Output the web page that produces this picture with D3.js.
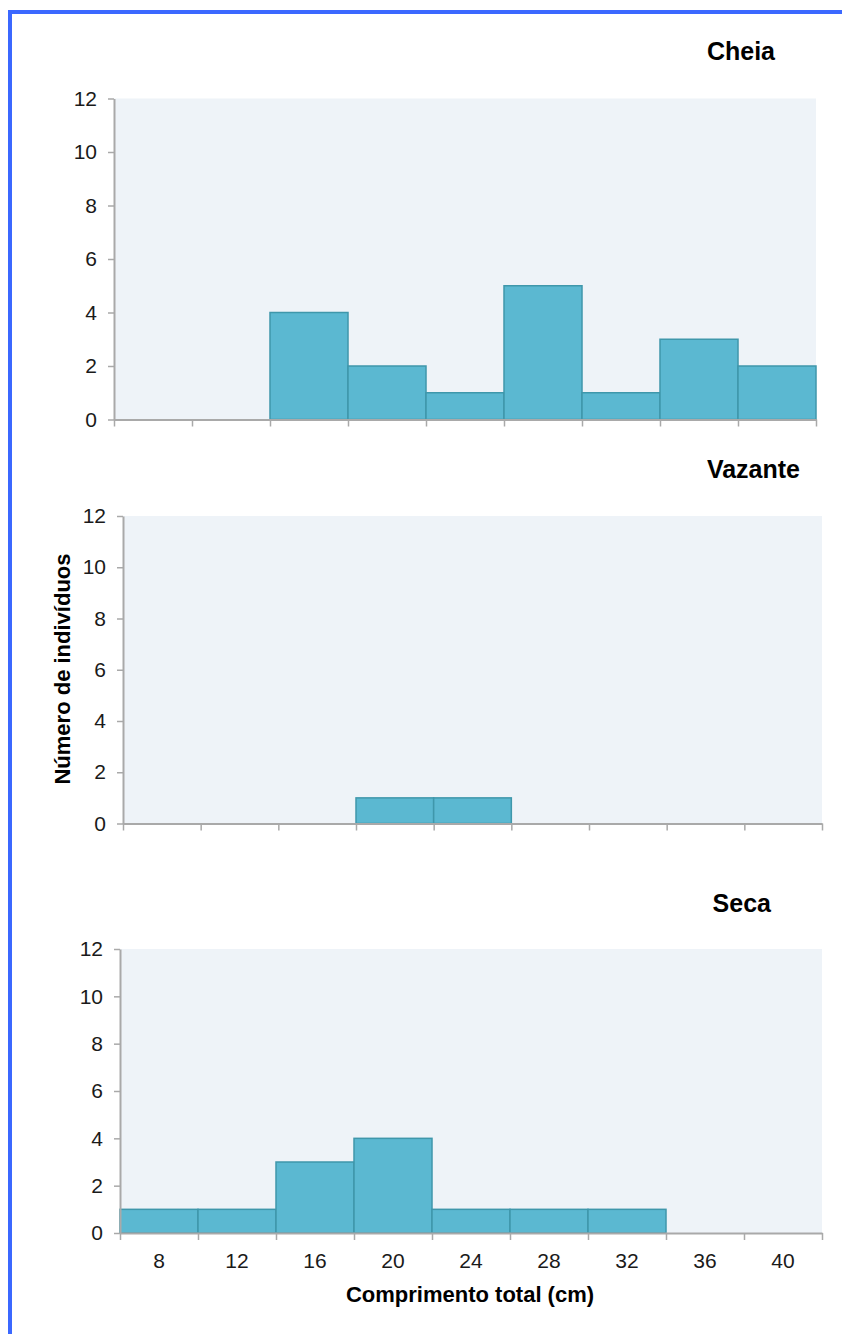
<!DOCTYPE html>
<html>
<head>
<meta charset="utf-8">
<script src="https://cdn.jsdelivr.net/npm/d3@7"></script>
<style>
  html, body { margin: 0; padding: 0; background: #fff; }
  svg { display: block; font-family: "Liberation Sans", Arial, Helvetica, sans-serif; }
</style>
</head>
<body>
<svg id="chart" width="842" height="1334"></svg>
<script>
// Length classes (bin centres, cm) and their bin edges
const binCenters = [8, 12, 16, 20, 24, 28, 32, 36, 40];
const binWidth = 4;

// Number of individuals per length class, by hydrological season
const cheia   = [0, 0, 4, 2, 1, 5, 1, 3, 2];
const vazante = [0, 0, 0, 1, 1, 0, 0, 0, 0];
const seca    = [1, 1, 3, 4, 1, 1, 1, 0, 0];

const seasonNames = ["Cheia", "Vazante", "Seca"];
const yTicks = [0, 2, 4, 6, 8, 10, 12];

const yLabel = "Número de indivíduos";
const xLabel = "Comprimento total (cm)";

// Panel layout
const panels = [
  { name: seasonNames[0], values: cheia,   x0: 114, x1: 816, yTop: 98.5, yBot: 419.5, titleX: 775, titleY: 60,  showX: false },
  { name: seasonNames[1], values: vazante, x0: 123, x1: 822, yTop: 516,  yBot: 823.5, titleX: 800, titleY: 478, showX: false },
  { name: seasonNames[2], values: seca,    x0: 120, x1: 822, yTop: 949,  yBot: 1233,  titleX: 771, titleY: 912, showX: true  }
];

const svg = d3.select("#chart");
const axisColor = "#a9a9a9";
const barFill = "#5bb8d1";
const barStroke = "#3f97ab";

// Frame lines along the top and left edges
svg.append("rect").attr("x", 8).attr("y", 10).attr("width", 842 - 8).attr("height", 4).attr("fill", "#3b68ff");
svg.append("rect").attr("x", 8).attr("y", 10).attr("width", 4).attr("height", 1334 - 10).attr("fill", "#3b68ff");

const edgeMin = binCenters[0] - binWidth / 2;
const edgeMax = binCenters[binCenters.length - 1] + binWidth / 2;
const edges = d3.range(edgeMin, edgeMax + 0.001, binWidth);

panels.forEach(p => {
  const x = d3.scaleLinear().domain([edgeMin, edgeMax]).range([p.x0, p.x1]);
  const y = d3.scaleLinear().domain([0, 12]).range([p.yBot, p.yTop]);
  const g = svg.append("g");

  // plot background
  g.append("rect")
    .attr("x", p.x0).attr("y", p.yTop)
    .attr("width", p.x1 - p.x0).attr("height", p.yBot - p.yTop)
    .attr("fill", "#eef3f8");

  // bars
  g.selectAll("rect.bar")
    .data(binCenters.map((c, i) => ({ c, v: p.values[i] })).filter(d => d.v > 0))
    .join("rect")
    .attr("class", "bar")
    .attr("x", d => x(d.c - binWidth / 2))
    .attr("y", d => y(d.v))
    .attr("width", d => x(d.c + binWidth / 2) - x(d.c - binWidth / 2))
    .attr("height", d => y(0) - y(d.v))
    .attr("fill", barFill)
    .attr("stroke", barStroke)
    .attr("stroke-width", 1.5);

  // y axis
  const yAxis = d3.axisLeft(y).tickValues(yTicks).tickSize(6).tickPadding(11).tickSizeOuter(0);
  const ya = g.append("g").attr("transform", `translate(${p.x0},0)`).call(yAxis);
  ya.select(".domain").attr("stroke", axisColor).attr("stroke-width", 2);
  ya.selectAll(".tick line").attr("stroke", axisColor).attr("stroke-width", 1.5);
  ya.selectAll(".tick text").attr("font-size", 21).attr("fill", "#1a1a1a")
    .attr("font-family", "'Liberation Sans', Arial, sans-serif");

  // x axis: ticks at bin edges
  const xAxis = d3.axisBottom(x).tickValues(edges).tickSize(7).tickFormat("").tickSizeOuter(0);
  const xa = g.append("g").attr("transform", `translate(0,${p.yBot})`).call(xAxis);
  xa.select(".domain").attr("stroke", axisColor).attr("stroke-width", 2);
  xa.selectAll(".tick line").attr("stroke", axisColor).attr("stroke-width", 1.5);

  if (p.showX) {
    g.selectAll("text.xlab")
      .data(binCenters)
      .join("text")
      .attr("class", "xlab")
      .attr("x", d => x(d))
      .attr("y", p.yBot + 35)
      .attr("text-anchor", "middle")
      .attr("font-size", 21)
      .attr("fill", "#1a1a1a")
      .text(d => d);
  }

  // season title
  g.append("text")
    .attr("x", p.titleX).attr("y", p.titleY)
    .attr("text-anchor", "end")
    .attr("font-size", 25).attr("font-weight", "bold")
    .attr("fill", "#000")
    .text(p.name);
});

// shared axis titles
svg.append("text")
  .attr("transform", "translate(70,669) rotate(-90)")
  .attr("text-anchor", "middle")
  .attr("font-size", 22).attr("font-weight", "bold")
  .text(yLabel);

svg.append("text")
  .attr("x", 470).attr("y", 1302)
  .attr("text-anchor", "middle")
  .attr("font-size", 22).attr("font-weight", "bold")
  .text(xLabel);
</script>
</body>
</html>
